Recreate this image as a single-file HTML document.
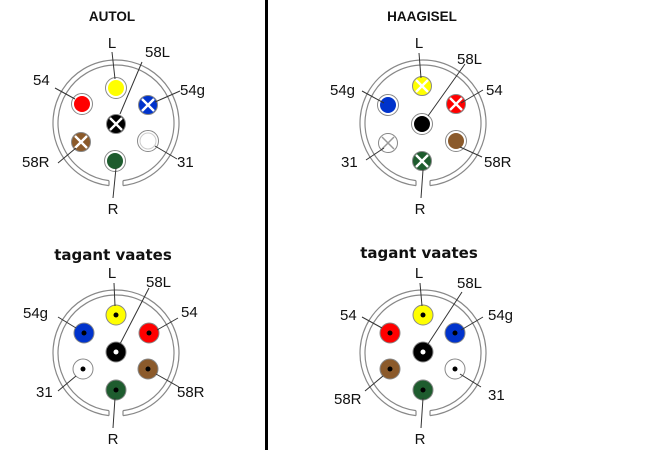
<!DOCTYPE html>
<html><head><meta charset="utf-8"><style>
html,body{margin:0;padding:0;background:#fff;}
svg{display:block;}
text{font-family:"Liberation Sans",sans-serif;font-size:15px;fill:#111;}
.t{font-weight:bold;font-size:13.5px;}
.t2{font-family:"DejaVu Sans",sans-serif;font-weight:bold;font-size:15px;}
.ld{stroke:#333;stroke-width:1;fill:none;}
.rg{fill:none;stroke:#888;stroke-width:1.2;}
</style></head><body>
<svg width="645" height="450" viewBox="0 0 645 450" xmlns="http://www.w3.org/2000/svg">
<defs>
<g id="shell">
  <path d="M-7,57.6 A58,58 0 1 1 7,57.6" class="rg"/>
  <path d="M-7,62.6 A63,63 0 1 1 7,62.6" class="rg"/>
  <path d="M-7,57.6 L-7,62.6 M7,57.6 L7,62.6" class="rg"/>
</g>
<g id="x"><path d="M-6,-6 L6,6 M6,-6 L-6,6" stroke="#fff" stroke-width="2.4"/></g>
</defs>
<rect x="265" y="0" width="3" height="450" fill="#000"/>

<text x="112" y="21" text-anchor="middle" class="t">AUTOL</text>
<g transform="translate(116,123)">
  <use href="#shell"/>
  <circle cx="0" cy="-35" r="10.5" fill="#fff" stroke="#888"/><circle cx="0" cy="-35" r="8" fill="#ffff00"/>
  <circle cx="-34" cy="-19" r="10.5" fill="#fff" stroke="#888"/><circle cx="-34" cy="-19" r="8" fill="#ff0000"/>
  <circle cx="32" cy="-18" r="9.5" fill="#0033cc" stroke="#888"/><use href="#x" transform="translate(32,-18)"/>
  <circle cx="0" cy="1" r="9.5" fill="#000" stroke="#888"/><use href="#x" transform="translate(0,1)"/>
  <circle cx="-35" cy="19" r="9.5" fill="#8b5a2b" stroke="#888"/><use href="#x" transform="translate(-35,19)"/>
  <circle cx="32" cy="18" r="10.5" fill="#fff" stroke="#888"/><circle cx="32" cy="18" r="8" fill="#fff" stroke="#ccc"/>
  <circle cx="-1" cy="38" r="10.5" fill="#fff" stroke="#888"/><circle cx="-1" cy="38" r="8" fill="#1e5c2e"/>
</g>
<path class="ld" d="M112,52 L115,79 M142,62 L120,114 M55,88 L75,99 M180,91 L155,102 M58,163 L76,148 M177,159 L155,146 M113,198 L116,168"/>
<text x="112" y="48" text-anchor="middle">L</text>
<text x="145" y="57">58L</text>
<text x="33" y="85">54</text>
<text x="180" y="95">54g</text>
<text x="22" y="167">58R</text>
<text x="177" y="167">31</text>
<text x="113" y="214" text-anchor="middle">R</text>

<text x="422" y="21" text-anchor="middle" class="t">HAAGISEL</text>
<g transform="translate(423,123)">
  <use href="#shell"/>
  <circle cx="-1" cy="-37" r="9.5" fill="#ffff00" stroke="#888"/><use href="#x" transform="translate(-1,-37)"/>
  <circle cx="-35" cy="-18" r="10.5" fill="#fff" stroke="#888"/><circle cx="-35" cy="-18" r="8" fill="#0033cc"/>
  <circle cx="33" cy="-19" r="9.5" fill="#ff0000" stroke="#888"/><use href="#x" transform="translate(33,-19)"/>
  <circle cx="-1" cy="1" r="10.5" fill="#fff" stroke="#888"/><circle cx="-1" cy="1" r="8" fill="#000"/>
  <circle cx="-35" cy="20" r="9.5" fill="#fff" stroke="#888"/><path d="M-41,14 L-29,26 M-29,14 L-41,26" stroke="#999" stroke-width="1.5"/>
  <circle cx="33" cy="18" r="10.5" fill="#fff" stroke="#888"/><circle cx="33" cy="18" r="8" fill="#8b5a2b"/>
  <circle cx="-1" cy="38" r="9.5" fill="#1e5c2e" stroke="#888"/><use href="#x" transform="translate(-1,38)"/>
</g>
<path class="ld" d="M419,53 L421,78 M465,64 L428,116 M362,91 L384,103 M483,90 L461,103 M366,160 L384,148 M482,157 L460,147 M421,198 L423,170"/>
<text x="419" y="48" text-anchor="middle">L</text>
<text x="457" y="64">58L</text>
<text x="330" y="95">54g</text>
<text x="486" y="95">54</text>
<text x="341" y="167">31</text>
<text x="484" y="167">58R</text>
<text x="420" y="214" text-anchor="middle">R</text>

<text x="113" y="260" text-anchor="middle" class="t2">tagant vaates</text>
<g transform="translate(116,353)">
  <use href="#shell"/>
  <circle cx="0" cy="-38" r="10" fill="#ffff00" stroke="#888"/><circle cx="0" cy="-38" r="2.5" fill="#000"/>
  <circle cx="-32" cy="-20" r="10" fill="#0033cc" stroke="#888"/><circle cx="-32" cy="-20" r="2.5" fill="#000"/>
  <circle cx="33" cy="-20" r="10" fill="#ff0000" stroke="#888"/><circle cx="33" cy="-20" r="2.5" fill="#000"/>
  <circle cx="0" cy="-1" r="10" fill="#000" stroke="#888"/><circle cx="0" cy="-1" r="2.5" fill="#fff"/>
  <circle cx="-33" cy="16" r="10" fill="#fff" stroke="#888"/><circle cx="-33" cy="16" r="2.5" fill="#000"/>
  <circle cx="32" cy="16" r="10" fill="#8b5a2b" stroke="#888"/><circle cx="32" cy="16" r="2.5" fill="#000"/>
  <circle cx="0" cy="37" r="10" fill="#1e5c2e" stroke="#888"/><circle cx="0" cy="37" r="2.5" fill="#000"/>
</g>
<path class="ld" d="M114,283 L115,306 M149,288 L120,344 M58,317 L76,328 M178,318 L157,330 M58,391 L76,376 M179,387 L156,374 M113,428 L115,398"/>
<text x="112" y="278" text-anchor="middle">L</text>
<text x="146" y="287">58L</text>
<text x="23" y="318">54g</text>
<text x="181" y="317">54</text>
<text x="36" y="397">31</text>
<text x="177" y="397">58R</text>
<text x="113" y="444" text-anchor="middle">R</text>

<text x="419" y="258" text-anchor="middle" class="t2">tagant vaates</text>
<g transform="translate(423,353)">
  <use href="#shell"/>
  <circle cx="0" cy="-38" r="10" fill="#ffff00" stroke="#888"/><circle cx="0" cy="-38" r="2.5" fill="#000"/>
  <circle cx="-33" cy="-20" r="10" fill="#ff0000" stroke="#888"/><circle cx="-33" cy="-20" r="2.5" fill="#000"/>
  <circle cx="32" cy="-20" r="10" fill="#0033cc" stroke="#888"/><circle cx="32" cy="-20" r="2.5" fill="#000"/>
  <circle cx="0" cy="-1" r="10" fill="#000" stroke="#888"/><circle cx="0" cy="-1" r="2.5" fill="#fff"/>
  <circle cx="-33" cy="16" r="10" fill="#8b5a2b" stroke="#888"/><circle cx="-33" cy="16" r="2.5" fill="#000"/>
  <circle cx="32" cy="16" r="10" fill="#fff" stroke="#888"/><circle cx="32" cy="16" r="2.5" fill="#000"/>
  <circle cx="0" cy="37" r="10" fill="#1e5c2e" stroke="#888"/><circle cx="0" cy="37" r="2.5" fill="#000"/>
</g>
<path class="ld" d="M420,283 L422,306 M462,292 L428,344 M362,317 L382,328 M483,317 L461,330 M365,391 L383,376 M481,387 L460,374 M421,428 L423,398"/>
<text x="419" y="278" text-anchor="middle">L</text>
<text x="457" y="288">58L</text>
<text x="340" y="320">54</text>
<text x="488" y="320">54g</text>
<text x="334" y="404">58R</text>
<text x="488" y="400">31</text>
<text x="420" y="444" text-anchor="middle">R</text>
</svg>
</body></html>
